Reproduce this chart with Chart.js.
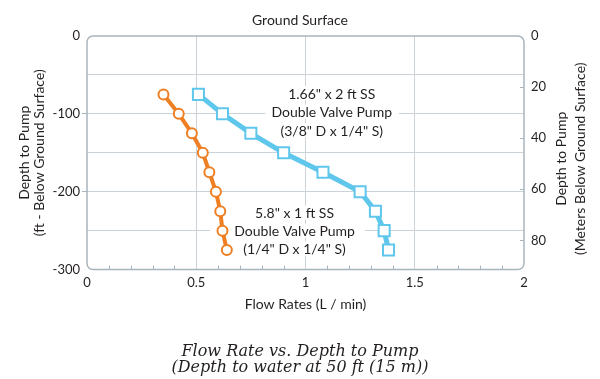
<!DOCTYPE html>
<html>
<head>
<meta charset="utf-8">
<script src="https://cdn.jsdelivr.net/npm/chart.js@4.4.1/dist/chart.umd.min.js"></script>
<style>
  html, body { margin: 0; padding: 0; background: #ffffff; }
  #wrap { width: 600px; height: 379px; position: relative; }
</style>
</head>
<body>
<div id="wrap"><canvas id="c"></canvas></div>
<script>
// ---- data ----
const depthsFt = [-75, -100, -125, -150, -175, -200, -225, -250, -275];
const flowSmallPump = [0.35, 0.42, 0.48, 0.53, 0.56, 0.59, 0.61, 0.62, 0.64]; // 5.8" x 1 ft SS (orange)
const flowLargePump = [0.51, 0.62, 0.75, 0.90, 1.08, 1.25, 1.32, 1.36, 1.38]; // 1.66" x 2 ft SS (blue)
const xTickLabels = [0, 0.5, 1, 1.5, 2];
const ftTickLabels = [0, -100, -200, -300];
const mTickLabels = [0, 20, 40, 60, 80];
const labelLargePump = ['1.66" x 2 ft SS', 'Double Valve Pump', '(3/8" D x 1/4" S)'];
const labelSmallPump = ['5.8" x 1 ft SS', 'Double Valve Pump', '(1/4" D x 1/4" S)'];
const labelLargeAnchor = { x: 1.12, y: -97 };
const labelSmallAnchor = { x: 0.95, y: -250 };
const FT_PER_M = 3.28084;

const ORANGE = '#ef7f23';
const BLUE = '#5fc6ec';
const TEXT = '#231f20';
const GRID = '#cbd3d8';
const FRAME = '#a9b5bd';
const FONT = 'Lato';

const toPts = (xs, ys) => xs.map((v, i) => ({ x: v, y: ys[i] }));

const notes = [
  { lines: labelLargePump, at: labelLargeAnchor, gap: 18.5, padL: 6, padR: 7 },
  { lines: labelSmallPump, at: labelSmallAnchor, gap: 18, padL: 24, padR: 10 }
];

const deco = {
  id: 'deco',
  beforeDatasetsDraw(chart) {
    const { ctx, chartArea: a, scales } = chart;
    const x = scales.x, y = scales.y, y2 = scales.y2;
    ctx.save();
    // annotation texts with white backing
    ctx.font = '14px ' + FONT;
    ctx.textAlign = 'center';
    ctx.textBaseline = 'middle';
    notes.forEach(n => {
      const cx = x.getPixelForValue(n.at.x);
      const cy = y.getPixelForValue(n.at.y);
      n.lines.forEach((t, i) => {
        const ly = cy + (i - 1) * n.gap;
        const w = ctx.measureText(t).width;
        ctx.fillStyle = '#ffffff';
        ctx.fillRect(cx - w / 2 - n.padL, ly - 7, w + n.padL + n.padR, 14);
      });
      n.lines.forEach((t, i) => {
        const ly = cy + (i - 1) * n.gap;
        ctx.fillStyle = TEXT;
        ctx.fillText(t, cx, ly + 1);
      });
    });
    // minor ticks on the bottom edge (inward)
    ctx.strokeStyle = FRAME;
    ctx.lineWidth = 1;
    for (let k = 1; k < 20; k++) {
      if (k % 5 === 0) continue;
      const px = Math.round(x.getPixelForValue(k / 10)) + 0.5;
      ctx.beginPath();
      ctx.moveTo(px, a.bottom);
      ctx.lineTo(px, a.bottom - 4);
      ctx.stroke();
    }
    // inward ticks on the right (meters) edge
    y2.ticks.forEach(t => {
      if (t.value === 0) return;
      const py = Math.round(y2.getPixelForValue(t.value)) + 0.5;
      ctx.beginPath();
      ctx.moveTo(a.right, py);
      ctx.lineTo(a.right - 4, py);
      ctx.stroke();
    });
    // rounded plot frame
    ctx.strokeStyle = FRAME;
    ctx.lineWidth = 1.5;
    const r = 6;
    const L = a.left, T = a.top, R = a.right, B = a.bottom;
    ctx.beginPath();
    ctx.moveTo(L + r, T);
    ctx.lineTo(R - r, T);
    ctx.arcTo(R, T, R, T + r, r);
    ctx.lineTo(R, B - r);
    ctx.arcTo(R, B, R - r, B, r);
    ctx.lineTo(L + r, B);
    ctx.arcTo(L, B, L, B - r, r);
    ctx.lineTo(L, T + r);
    ctx.arcTo(L, T, L + r, T, r);
    ctx.closePath();
    ctx.stroke();
    ctx.restore();
  },
  afterDraw(chart) {
    const { ctx, scales } = chart;
    const y2 = scales.y2;
    const cy = (y2.top + y2.bottom) / 2 + 6;
    ctx.save();
    ctx.fillStyle = TEXT;
    ctx.font = '14px ' + FONT;
    ctx.textAlign = 'center';
    ctx.textBaseline = 'middle';
    [['Depth to Pump', 37], ['(Meters Below Ground Surface)', 56]].forEach(([t, dx]) => {
      ctx.save();
      ctx.translate(y2.left + dx, cy);
      ctx.rotate(-Math.PI / 2);
      ctx.fillText(t, 0, 0);
      ctx.restore();
    });
    ctx.restore();
  }
};

Chart.defaults.font.family = FONT;
Chart.defaults.font.size = 14;
Chart.defaults.color = TEXT;

new Chart(document.getElementById('c'), {
  type: 'scatter',
  data: {
    datasets: [
      {
        label: '1.66" x 2 ft SS Double Valve Pump',
        data: toPts(flowLargePump, depthsFt),
        showLine: true,
        borderColor: BLUE,
        borderWidth: 5,
        tension: 0,
        pointStyle: 'rect',
        pointRadius: 7.8,
        pointHoverRadius: 7.8,
        pointBorderWidth: 2,
        pointBackgroundColor: '#ffffff',
        pointBorderColor: BLUE,
        yAxisID: 'y'
      },
      {
        label: '5.8" x 1 ft SS Double Valve Pump',
        data: toPts(flowSmallPump, depthsFt),
        showLine: true,
        borderColor: ORANGE,
        borderWidth: 4,
        tension: 0,
        pointStyle: 'circle',
        pointRadius: 5,
        pointHoverRadius: 5,
        pointBorderWidth: 2,
        pointBackgroundColor: '#ffffff',
        pointBorderColor: ORANGE,
        yAxisID: 'y'
      }
    ]
  },
  options: {
    responsive: true,
    maintainAspectRatio: false,
    animation: false,
    events: [],
    layout: { padding: 0 },
    plugins: {
      legend: { display: false },
      tooltip: { enabled: false },
      title: {
        display: true,
        text: 'Ground Surface',
        color: TEXT,
        font: { family: FONT, size: 14, weight: 'normal' },
        padding: { top: 11.6, bottom: 7.6 }
      },
      subtitle: {
        display: true,
        position: 'bottom',
        text: ['Flow Rate vs. Depth to Pump', '(Depth to water at 50 ft (15 m))'],
        color: TEXT,
        font: { family: 'DejaVu Serif', size: 16, style: 'italic', lineHeight: 1.02 },
        padding: { top: 0, bottom: 2.8 }
      }
    },
    scales: {
      x: {
        type: 'linear',
        position: 'bottom',
        min: 0,
        max: 2,
        afterFit(s) { s.height = 74; },
        afterBuildTicks(s) { s.ticks = xTickLabels.map(v => ({ value: v })); },
        ticks: { padding: 5, color: TEXT, font: { size: 13 }, callback: v => String(v) },
        grid: {
          drawTicks: false,
          color: c => (c.tick && (c.tick.value === 0 || c.tick.value === 2)) ? 'rgba(0,0,0,0)' : GRID,
          lineWidth: 1
        },
        border: { display: false },
        title: {
          display: true,
          text: 'Flow Rates (L / min)',
          color: TEXT,
          font: { size: 14 },
          padding: { top: 0, bottom: 30.6 }
        }
      },
      y: {
        type: 'linear',
        position: 'left',
        min: -300,
        max: 0,
        afterFit(s) { s.width = 87; },
        ticks: {
          stepSize: 50,
          padding: 2,
          color: TEXT,
          font: { size: 13 },
          callback: v => ftTickLabels.includes(v) ? String(v) : ''
        },
        grid: {
          color: c => (c.tick && (c.tick.value === 0 || c.tick.value === -300)) ? 'rgba(0,0,0,0)' : GRID,
          tickColor: c => (c.tick && (c.tick.value === -100 || c.tick.value === -200)) ? FRAME : 'rgba(0,0,0,0)',
          tickLength: 5,
          lineWidth: 1
        },
        border: { display: false },
        title: {
          display: true,
          text: ['Depth to Pump', '(ft - Below Ground Surface)'],
          color: TEXT,
          font: { size: 14, lineHeight: 1.1 },
          padding: { top: 16.3, bottom: 0 }
        }
      },
      y2: {
        type: 'linear',
        position: 'right',
        reverse: true,
        min: 0,
        max: 300 / FT_PER_M,
        afterFit(s) { s.width = 76; },
        afterBuildTicks(s) { s.ticks = mTickLabels.map(v => ({ value: v })); },
        ticks: { padding: 7, color: TEXT, font: { size: 13 }, callback: v => String(v) },
        grid: { drawOnChartArea: false, drawTicks: false },
        border: { display: false }
      }
    }
  },
  plugins: [deco]
});
</script>
</body>
</html>
